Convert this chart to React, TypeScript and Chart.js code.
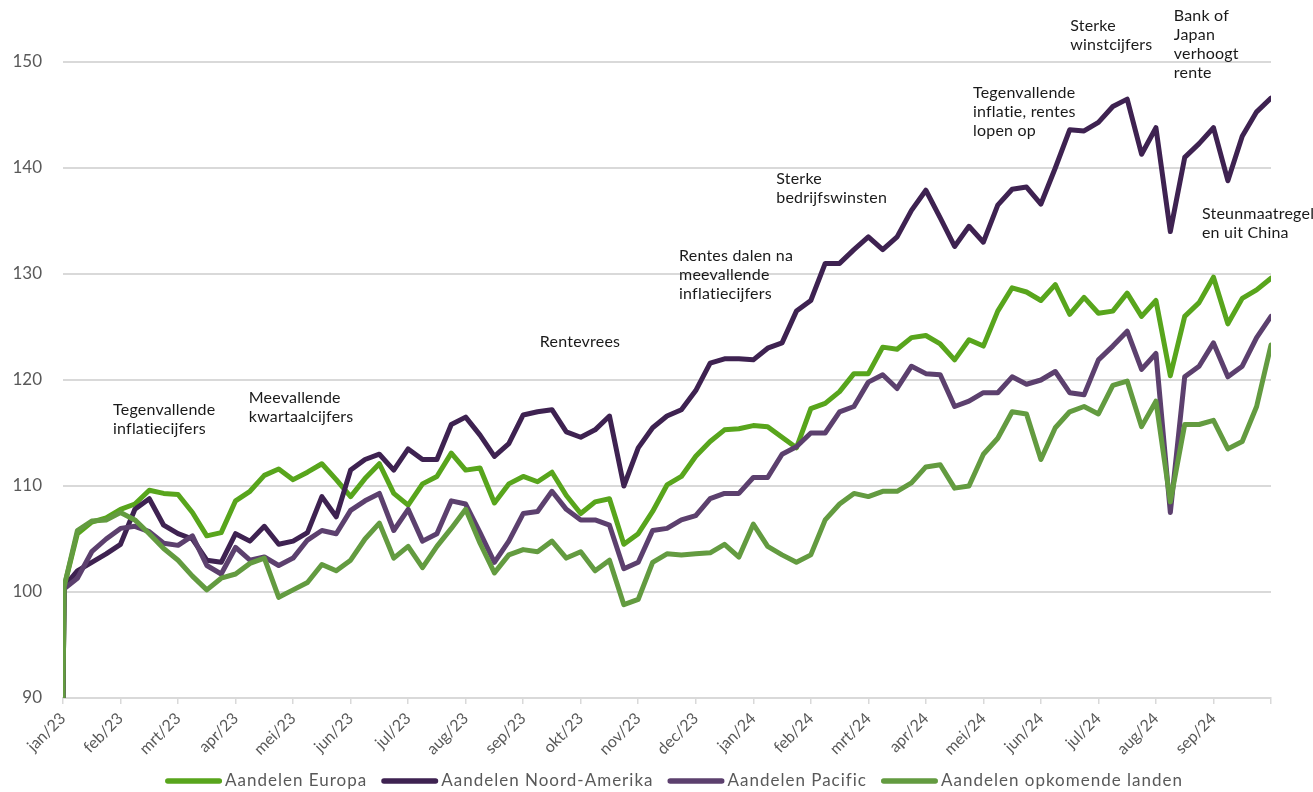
import { useEffect, useRef } from 'react';
import { Chart, registerables } from 'chart.js';

Chart.register(...registerables);

// Month labels (tick every month, data sampled 4x per month)
const months = [
  'jan/23', 'feb/23', 'mrt/23', 'apr/23', 'mei/23', 'jun/23', 'jul/23', 'aug/23', 'sep/23', 'okt/23', 'nov/23', 'dec/23',
  'jan/24', 'feb/24', 'mrt/24', 'apr/24', 'mei/24', 'jun/24', 'jul/24', 'aug/24', 'sep/24',
];
const pointsPerMonth = 4;
const startValue = 90;

const europa = [
  100.5, 105.5, 106.6, 107.0, 107.8, 108.3, 109.6, 109.3, 109.2, 107.5, 105.3, 105.6,
  108.6, 109.5, 111.0, 111.6, 110.6, 111.3, 112.1, 110.6, 109.0, 110.7, 112.1, 109.3,
  108.2, 110.2, 110.9, 113.1, 111.5, 111.7, 108.4, 110.2, 110.9, 110.4, 111.3, 109.1,
  107.4, 108.5, 108.8, 104.5, 105.5, 107.6, 110.1, 110.9, 112.8, 114.2, 115.3, 115.4,
  115.7, 115.6, 114.6, 113.6, 117.3, 117.8, 118.9, 120.6, 120.6, 123.1, 122.9, 124.0,
  124.2, 123.4, 121.9, 123.8, 123.2, 126.5, 128.7, 128.3, 127.5, 129.0, 126.2, 127.8,
  126.3, 126.5, 128.2, 126.0, 127.5, 120.4, 126.0, 127.3, 129.7, 125.3, 127.7, 128.5,
  129.6,
];
const noordAmerika = [
  100.5, 102.0, 102.8, 103.6, 104.5, 107.8, 108.8, 106.3, 105.5, 105.0, 103.0, 102.8,
  105.5, 104.8, 106.2, 104.5, 104.8, 105.6, 109.0, 107.1, 111.5, 112.5, 113.0, 111.5,
  113.5, 112.5, 112.5, 115.8, 116.5, 114.8, 112.8, 114.0, 116.7, 117.0, 117.2, 115.1,
  114.6, 115.3, 116.6, 110.0, 113.6, 115.5, 116.6, 117.2, 119.0, 121.6, 122.0, 122.0,
  121.9, 123.0, 123.5, 126.5, 127.5, 131.0, 131.0, 132.3, 133.5, 132.3, 133.5, 136.0,
  137.9, 135.3, 132.6, 134.5, 133.0, 136.5, 138.0, 138.2, 136.6, 140.0, 143.6, 143.5,
  144.3, 145.8, 146.5, 141.3, 143.8, 134.0, 141.0, 142.3, 143.8, 138.8, 143.0, 145.3,
  146.6,
];
const pacific = [
  100.3, 101.3, 103.8, 105.0, 106.0, 106.2, 105.7, 104.6, 104.4, 105.3, 102.5, 101.7,
  104.2, 103.0, 103.3, 102.5, 103.2, 104.9, 105.8, 105.5, 107.7, 108.6, 109.3, 105.8,
  107.8, 104.8, 105.5, 108.6, 108.3, 105.6, 102.8, 104.8, 107.4, 107.6, 109.5, 107.8,
  106.8, 106.8, 106.3, 102.2, 102.8, 105.8, 106.0, 106.8, 107.2, 108.8, 109.3, 109.3,
  110.8, 110.8, 113.0, 113.7, 115.0, 115.0, 117.0, 117.5, 119.8, 120.5, 119.2, 121.3,
  120.6, 120.5, 117.5, 118.0, 118.8, 118.8, 120.3, 119.6, 120.0, 120.8, 118.8, 118.6,
  121.9, 123.2, 124.6, 121.0, 122.5, 107.5, 120.3, 121.3, 123.5, 120.3, 121.3, 124.0,
  126.0,
];
const opkomendeLanden = [
  100.5, 105.8, 106.7, 106.8, 107.5, 106.8, 105.5, 104.1, 103.0, 101.5, 100.2, 101.3,
  101.7, 102.7, 103.2, 99.5, 100.2, 100.9, 102.6, 102.0, 103.0, 105.0, 106.5, 103.2,
  104.3, 102.3, 104.3, 106.0, 107.8, 104.6, 101.8, 103.5, 104.0, 103.8, 104.8, 103.2,
  103.8, 102.0, 103.0, 98.8, 99.3, 102.8, 103.6, 103.5, 103.6, 103.7, 104.5, 103.3,
  106.4, 104.3, 103.5, 102.8, 103.5, 106.8, 108.3, 109.3, 109.0, 109.5, 109.5, 110.3,
  111.8, 112.0, 109.8, 110.0, 113.0, 114.5, 117.0, 116.8, 112.5, 115.5, 117.0, 117.5,
  116.8, 119.5, 119.9, 115.6, 118.0, 108.5, 115.8, 115.8, 116.2, 113.5, 114.2, 117.5,
  123.3,
];

const seriesNames = ['Aandelen Europa', 'Aandelen Noord-Amerika', 'Aandelen Pacific', 'Aandelen opkomende landen'];
const seriesValues = [europa, noordAmerika, pacific, opkomendeLanden];
const seriesColors = ['#58a51c', '#3e2251', '#5c406e', '#639b40'];

const annotations = [
  { x: 0.87, y: 117.2, lines: ['Tegenvallende', 'inflatiecijfers'] },
  { x: 3.23, y: 118.3, lines: ['Meevallende', 'kwartaalcijfers'] },
  { x: 8.29, y: 123.6, lines: ['Rentevrees'] },
  { x: 10.71, y: 131.7, lines: ['Rentes dalen na', 'meevallende', 'inflatiecijfers'] },
  { x: 12.4, y: 139.0, lines: ['Sterke', 'bedrijfswinsten'] },
  { x: 15.82, y: 147.1, lines: ['Tegenvallende', 'inflatie, rentes', 'lopen op'] },
  { x: 17.51, y: 153.4, lines: ['Sterke', 'winstcijfers'] },
  { x: 19.31, y: 154.4, lines: ['Bank of', 'Japan', 'verhoogt', 'rente'] },
  { x: 19.8, y: 135.7, lines: ['Steunmaatregel', 'en uit China'] },
];

const FONT = 'Lato, "Noto Sans", sans-serif';

function toPoints(values: number[]) {
  const pts = [{ x: 0, y: startValue }];
  values.forEach((v, i) => {
    pts.push({ x: i === 0 ? 0.02 : i / pointsPerMonth, y: v });
  });
  return pts;
}

const overlayPlugin = {
  id: 'overlay',
  afterDraw(chart: any) {
    const { ctx } = chart;
    const xs = chart.scales.x;
    const ys = chart.scales.y;
    ctx.save();
    // annotations
    ctx.fillStyle = '#1a1a1a';
    ctx.font = `16px ${FONT}`;
    try { (ctx as any).letterSpacing = '0.2px'; } catch (e) { /* ignore */ }
    ctx.textAlign = 'left';
    ctx.textBaseline = 'middle';
    annotations.forEach((a) => {
      const px = xs.getPixelForValue(a.x);
      const py = ys.getPixelForValue(a.y);
      a.lines.forEach((l, k) => ctx.fillText(l, px, py + k * 19));
    });
    // legend
    ctx.font = `17px ${FONT}`;
    try { (ctx as any).letterSpacing = '1px'; } catch (e) { /* ignore */ }
    const sample = 57;
    const gapText = 3;
    const gapItem = 14;
    const widths = seriesNames.map((n) => ctx.measureText(n).width);
    const total = widths.reduce((s, w) => s + w + sample + gapText, 0) + gapItem * (seriesNames.length - 1);
    const center = 674;
    const ly = 781;
    let cx = center - total / 2;
    seriesNames.forEach((n, k) => {
      ctx.strokeStyle = seriesColors[k];
      ctx.lineWidth = 5.5;
      ctx.lineCap = 'round';
      ctx.beginPath();
      ctx.moveTo(cx + 2.75, ly);
      ctx.lineTo(cx + sample - 2.75, ly);
      ctx.stroke();
      ctx.fillStyle = '#595959';
      ctx.textAlign = 'left';
      ctx.textBaseline = 'middle';
      ctx.fillText(n, cx + sample + gapText, ly);
      cx += sample + gapText + widths[k] + gapItem;
    });
    ctx.restore();
  },
};

export default function App() {
  const ref = useRef<HTMLCanvasElement | null>(null);
  useEffect(() => {
    if (!ref.current) return;
    const datasets = seriesNames.map((name, k) => ({
      label: name,
      data: toPoints(seriesValues[k]),
      borderColor: seriesColors[k],
      backgroundColor: seriesColors[k],
      borderWidth: 5,
      pointRadius: 0,
      tension: 0,
      fill: false,
      borderJoinStyle: 'round' as const,
      borderCapStyle: 'round' as const,
      order: seriesNames.length - k,
    }));
    const chart = new Chart(ref.current, {
      type: 'line',
      data: { datasets },
      options: {
        animation: false,
        responsive: false,
        parsing: false as any,
        normalized: true,
        layout: { padding: { top: 62, right: 42, bottom: 34, left: 0 } },
        plugins: { legend: { display: false }, tooltip: { enabled: false } },
        scales: {
          x: {
            type: 'linear',
            min: 0,
            max: months.length,
            afterFit: (s: any) => { s.height = 60; },
            afterBuildTicks: (s: any) => {
              s.ticks = Array.from({ length: months.length + 1 }, (_, i) => ({ value: i }));
            },
            ticks: {
              autoSkip: false,
              maxRotation: 45,
              minRotation: 45,
              padding: 5,
              color: '#595959',
              font: { family: FONT, size: 16 },
              callback: (v: any) => months[Number(v)] ?? '',
            },
            grid: { drawOnChartArea: false, drawTicks: true, tickLength: 6, color: '#d9d9d9', lineWidth: 1.5 },
            border: { display: true, color: '#d9d9d9', width: 2 },
          },
          y: {
            min: 90,
            max: 150,
            afterFit: (s: any) => { s.width = 63; },
            ticks: {
              stepSize: 10,
              padding: 21,
              color: '#595959',
              font: { family: FONT, size: 17 },
            },
            grid: { color: '#d9d9d9', lineWidth: 2, drawTicks: false },
            border: { display: false },
          },
        },
      },
      plugins: [overlayPlugin],
    });
    return () => chart.destroy();
  }, []);
  return (
    <div style={{ position: 'fixed', left: 0, top: 0, width: 1313, height: 792, background: '#fff' }}>
      <canvas ref={ref} width={1313} height={792} style={{ display: 'block' }} />
    </div>
  );
}
